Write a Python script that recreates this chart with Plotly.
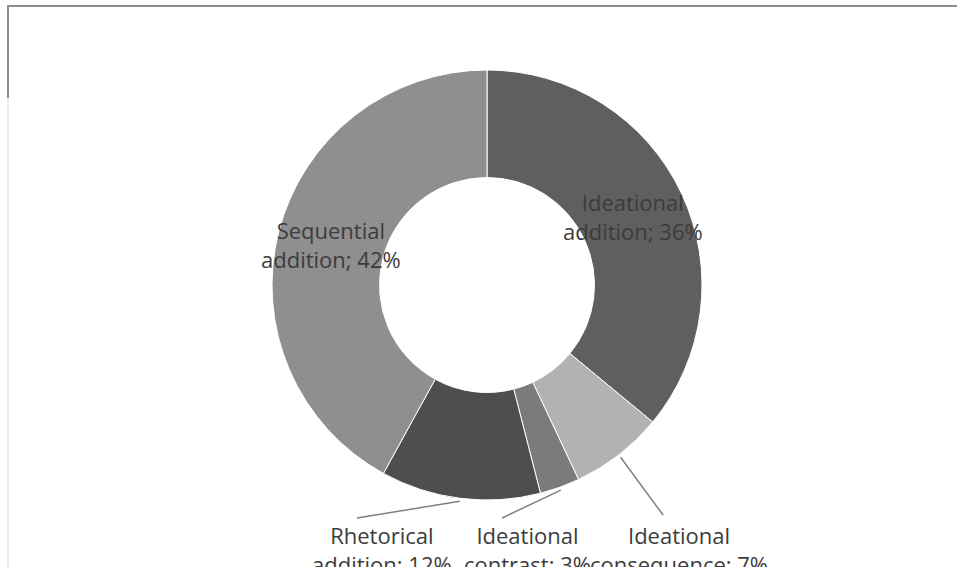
import math
import plotly.graph_objects as go

# ---- data ----
categories = ["Ideational addition", "Ideational consequence", "Ideational contrast",
              "Rhetorical addition", "Sequential addition"]
label_lines = [("Ideational", "addition"), ("Ideational", "consequence"), ("Ideational", "contrast"),
               ("Rhetorical", "addition"), ("Sequential", "addition")]
shares = [36, 7, 3, 12, 42]

# ---- styling / layout ----
colors = ["#5f5f5f", "#b2b2b2", "#7b7b7b", "#4e4e4e", "#8f8f8f"]
W, H = 957, 567
CX, CY, R = 487, 285, 215
HOLE = 0.5
FONT = dict(family="Open Sans, Noto Sans, sans-serif", size=22, color="#3c3c3c")
# where outside labels sit (pixel centre of the two-line block) and where leader lines start
outside_pos = {
    "Rhetorical addition": ((382, 549), (357, 518)),
    "Ideational contrast": ((527, 549), (502, 518)),
    "Ideational consequence": ((679, 549), (663, 515)),
}


def px(x):
    return x / W


def py(y):
    return 1 - y / H


fig = go.Figure(go.Pie(
    labels=categories, values=shares, sort=False, direction="clockwise", rotation=0,
    hole=HOLE, textinfo="none", showlegend=False,
    marker=dict(colors=colors, line=dict(color="white", width=1)),
    domain=dict(x=[px(CX - R), px(CX + R)], y=[py(CY + R), py(CY - R)]),
))

annotations = []
shapes = []
total = sum(shares)
cum = 0
for cat, (l1, l2), v in zip(categories, label_lines, shares):
    mid = (cum + v / 2) / total
    cum += v
    ang = 2 * math.pi * mid
    pct = round(100 * v / total)
    text = f"{l1}<br>{l2}; {pct}%"
    if cat in outside_pos:
        (lx, ly), (sx, sy) = outside_pos[cat]
        rt = R + 3
        tx = CX + rt * math.sin(ang)
        ty = CY - rt * math.cos(ang)
        shapes.append(dict(type="line", xref="paper", yref="paper",
                           x0=px(sx), y0=py(sy), x1=px(tx), y1=py(ty),
                           line=dict(color="#808080", width=1.5)))
        annotations.append(dict(x=px(lx), y=py(ly), xref="paper", yref="paper",
                                text=text, showarrow=False, font=FONT,
                                xanchor="center", yanchor="middle"))
    else:
        rm = R * (1 + HOLE) / 2
        x = CX + rm * math.sin(ang)
        y = CY - rm * math.cos(ang)
        annotations.append(dict(x=px(x), y=py(y), xref="paper", yref="paper",
                                text=text, showarrow=False, font=FONT,
                                xanchor="center", yanchor="middle"))

# chart frame fragments
shapes.append(dict(type="line", xref="paper", yref="paper", x0=px(7), x1=1.0, y0=py(6), y1=py(6),
                   line=dict(color="#8c8c8c", width=2)))
shapes.append(dict(type="line", xref="paper", yref="paper", x0=px(8), x1=px(8), y0=py(6), y1=py(98),
                   line=dict(color="#8c8c8c", width=2)))
shapes.append(dict(type="line", xref="paper", yref="paper", x0=px(8), x1=px(8), y0=py(98), y1=0,
                   line=dict(color="#ececec", width=2)))

fig.update_layout(
    width=W, height=H, margin=dict(l=0, r=0, t=0, b=0),
    paper_bgcolor="white", plot_bgcolor="white",
    annotations=annotations, shapes=shapes,
)

fig.write_html("out.html")
